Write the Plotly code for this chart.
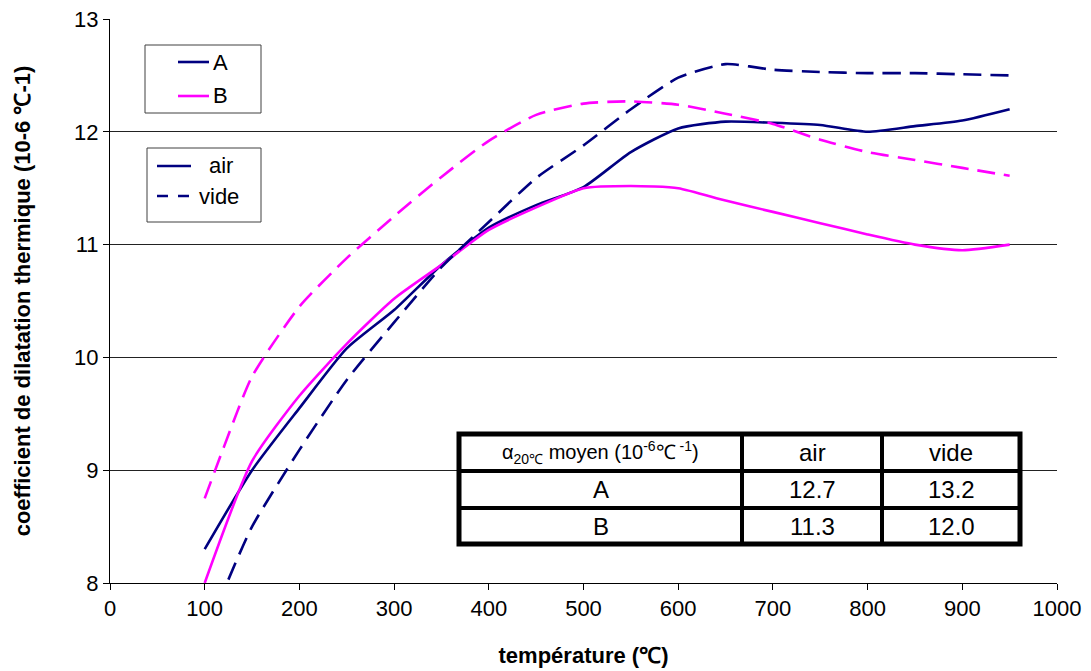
import plotly.graph_objects as go

# ---------------- data ----------------
x_A_air = [100, 150, 200, 250, 300, 350, 400, 450, 500, 550, 600, 650, 700, 750, 800, 850, 900, 950]
A_air   = [8.30, 9.00, 9.55, 10.08, 10.42, 10.82, 11.15, 11.35, 11.51, 11.82, 12.03, 12.09, 12.08, 12.06, 12.00, 12.05, 12.10, 12.20]

x_B_air = [100, 150, 200, 250, 300, 350, 400, 450, 500, 550, 600, 650, 700, 750, 800, 850, 900, 950]
B_air   = [8.00, 9.08, 9.66, 10.12, 10.52, 10.82, 11.13, 11.33, 11.50, 11.52, 11.50, 11.39, 11.29, 11.19, 11.09, 11.00, 10.95, 11.00]

x_A_vide = [125, 150, 200, 250, 300, 350, 400, 450, 500, 550, 600, 650, 700, 750, 800, 850, 900, 950]
A_vide   = [8.03, 8.50, 9.18, 9.80, 10.31, 10.80, 11.20, 11.59, 11.88, 12.20, 12.48, 12.60, 12.55, 12.53, 12.52, 12.52, 12.51, 12.50]

x_B_vide = [100, 120, 150, 200, 250, 300, 350, 400, 450, 500, 550, 600, 650, 700, 750, 800, 850, 900, 950]
B_vide   = [8.75, 9.20, 9.83, 10.45, 10.88, 11.25, 11.60, 11.92, 12.15, 12.25, 12.27, 12.24, 12.16, 12.07, 11.93, 11.82, 11.75, 11.68, 11.61]

legend1_labels = ["A", "B"]
legend2_labels = ["air", "vide"]

table_header = ["α<sub>20℃</sub> moyen (10<sup>-6</sup>℃<sup> -1</sup>)", "air", "vide"]
table_rows = [["A", "12.7", "13.2"],
              ["B", "11.3", "12.0"]]

NAVY = "#000080"
MAG = "#FF00FF"
DASH = "18px,9px"
FONT = "Liberation Sans, Arial, sans-serif"

fig = go.Figure()

def add(x, y, color, dash, name):
    fig.add_trace(go.Scatter(x=x, y=y, mode="lines", showlegend=False, name=name,
                             line=dict(color=color, width=2.6, dash=dash, shape="spline", smoothing=0.6),
                             hoverinfo="skip"))

add(x_A_air, A_air, NAVY, "solid", "A air")
add(x_B_air, B_air, MAG, "solid", "B air")
add(x_A_vide, A_vide, NAVY, DASH, "A vide")
add(x_B_vide, B_vide, MAG, DASH, "B vide")

# page-pixel -> paper mapping (page has an 8px body margin)
PX0, PX1, PY0, PY1 = 110, 1057, 19, 583

def px(xp):
    return (xp - PX0) / (PX1 - PX0)

def py(yp):
    return (PY1 - yp) / (PY1 - PY0)

shapes = []
annotations = []

# ---------------- legends (boxes drawn as shapes) ----------------
def legend_box(x0, y0, x1, y1):
    shapes.append(dict(type="rect", xref="paper", yref="paper", x0=px(x0), x1=px(x1), y0=py(y1), y1=py(y0),
                       line=dict(color="#404040", width=1), fillcolor="white", layer="above"))

def legend_item(lx0, lx1, ly, color, dash, tx, label):
    shapes.append(dict(type="line", xref="paper", yref="paper", x0=px(lx0), x1=px(lx1), y0=py(ly), y1=py(ly),
                       line=dict(color=color, width=2.6, dash=dash), layer="above"))
    annotations.append(dict(xref="paper", yref="paper", x=px(tx), y=py(ly), text=label, showarrow=False,
                            xanchor="left", yanchor="middle", font=dict(size=22, color="black", family=FONT)))

legend_box(145, 45, 261, 113)
legend_item(178, 209, 62, NAVY, "solid", 211, legend1_labels[0])
legend_item(178, 209, 96, MAG, "solid", 211, legend1_labels[1])

legend_box(147, 148, 261, 222)
legend_item(157, 191, 166, NAVY, "solid", 207, legend2_labels[0])
legend_item(157, 191, 196, NAVY, "11px,10px", 197, legend2_labels[1])

# ---------------- table ----------------
L, R = 459, 1020
T, B = 434, 544
row_lines = [471, 508]
col_lines = [742, 882]

shapes.append(dict(type="rect", xref="paper", yref="paper", x0=px(L), x1=px(R), y0=py(B), y1=py(T),
                   line=dict(color="black", width=5), fillcolor="white", layer="above"))
for r in row_lines:
    shapes.append(dict(type="line", xref="paper", yref="paper", x0=px(L), x1=px(R), y0=py(r), y1=py(r),
                       line=dict(color="black", width=4), layer="above"))
for c in col_lines:
    shapes.append(dict(type="line", xref="paper", yref="paper", x0=px(c), x1=px(c), y0=py(B), y1=py(T),
                       line=dict(color="black", width=4), layer="above"))

col_edges = [L] + col_lines + [R]
row_edges = [T] + row_lines + [B]
all_rows = [table_header] + table_rows
for i, row in enumerate(all_rows):
    yc = (row_edges[i] + row_edges[i + 1]) / 2
    for j, txt in enumerate(row):
        xc = (col_edges[j] + col_edges[j + 1]) / 2
        size = 20 if (i == 0 and j == 0) else 24
        annotations.append(dict(xref="paper", yref="paper", x=px(xc), y=py(yc), text=txt,
                                showarrow=False, xanchor="center", yanchor="middle",
                                font=dict(size=size, color="black", family=FONT)))

fig.update_layout(
    width=1075, height=663,
    margin=dict(l=102, r=26, t=11, b=88),
    paper_bgcolor="white", plot_bgcolor="white",
    font=dict(family=FONT, size=22, color="black"),
    shapes=shapes, annotations=annotations,
    showlegend=False,
    xaxis=dict(range=[0, 1000], tickvals=list(range(0, 1001, 100)), showgrid=False,
               showline=True, linecolor="black", linewidth=1, ticks="outside", ticklen=6,
               tickcolor="black", tickfont=dict(size=22), zeroline=False, automargin=False,
               ticklabeloverflow="allow",
               title=dict(text="<b>température (℃)</b>", font=dict(size=22), standoff=27)),
    yaxis=dict(range=[8, 13], tickvals=[8, 9, 10, 11, 12, 13], showgrid=True, gridcolor="#222222",
               gridwidth=1, showline=True, linecolor="black", linewidth=1, ticks="outside",
               ticklen=6, tickcolor="black", tickfont=dict(size=22), zeroline=False, automargin=False,
               ticklabeloverflow="allow",
               title=dict(text="<b>coefficient de dilatation thermique (10-6 ℃-1)</b>",
                          font=dict(size=22), standoff=37)),
)

fig.write_html("out.html")
